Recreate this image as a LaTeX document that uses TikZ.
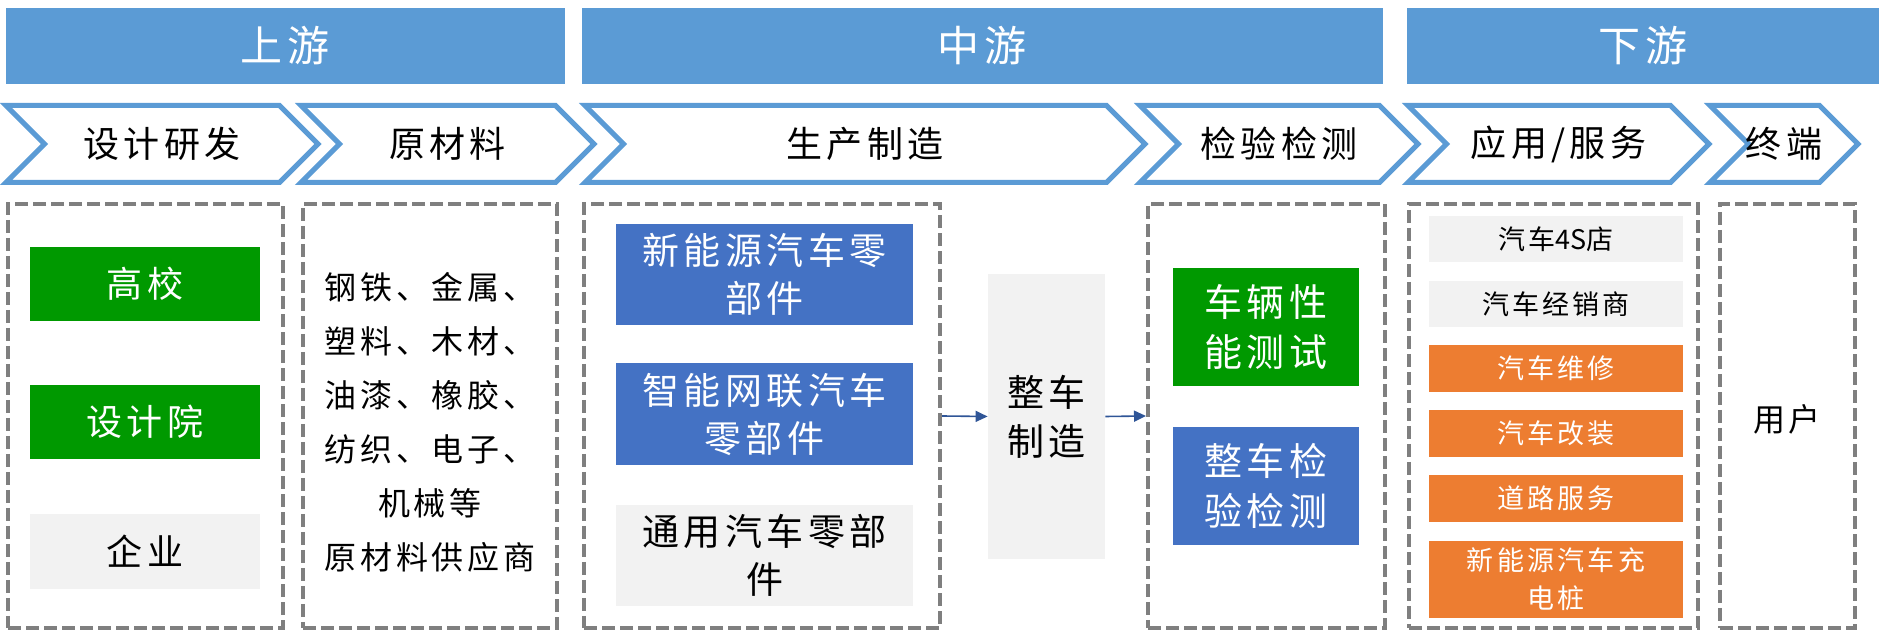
\documentclass[tikz,border=0pt]{standalone}
\usepackage{fontspec}
\setmainfont{Noto Sans CJK SC}
\newfontfamily\cjk{Noto Sans CJK SC}[LetterSpace=12]
\newfontfamily\cjknos{Noto Sans CJK SC}
\usetikzlibrary{arrows.meta}
\definecolor{hdrblue}{HTML}{5B9BD5}
\definecolor{gr}{RGB}{0,153,0}
\definecolor{bl}{HTML}{4472C4}
\definecolor{lg}{HTML}{F2F2F2}
\definecolor{og}{HTML}{ED7D31}
\definecolor{dg}{HTML}{7F7F7F}
\definecolor{arr}{HTML}{2F5597}
\newcommand\mybox[7]{%
  \pgfmathsetmacro\cx{(#2+#4)/2}\pgfmathsetmacro\cy{(#3+#5)/2}%
  \pgfmathsetmacro\ww{(#4-#2)*0.5}\pgfmathsetmacro\hh{(#5-#3)*0.5}%
  \node[#6, minimum width=\ww pt, minimum height=\hh pt] (#1) at (\cx,\cy) {#7};}
\newcommand\chev[4]{%
  \draw[chevline] (#2,105.5) -- ({#3-38.5},105.5) -- (#3,144) -- ({#3-38.5},182.5) -- (#2,182.5) -- ({#2+38.5},144) -- cycle;
  \node[chevtext] (#1) at ({(#2+#3)/2},144) {#4};}
\tikzset{
  banner/.style={fill=hdrblue, draw=none, inner sep=0pt, text=white, font={\cjk\fontsize{21}{24}\selectfont}},
  chevline/.style={draw=hdrblue, line width=2.5pt, miter limit=10},
  chevtext/.style={inner sep=0pt, text=black, font={\cjk\fontsize{18}{22}\selectfont}},
  dbox/.style={draw=dg, line width=2pt, dash pattern=on 6.5pt off 2.5pt, inner sep=0pt},
  fbox/.style={draw=none, inner sep=0pt, align=center},
  wt/.style={text=white},
  bt/.style={text=black},
  arrow/.style={draw=arr, line width=0.8pt, -{Triangle[length=6pt,width=5.5pt]}},
}
\begin{document}
\begin{tikzpicture}[x=0.5pt,y=-0.5pt]
\useasboundingbox (0,0) rectangle (1886,640);
% banners
\mybox{up}{6}{8}{565}{84}{banner}{上游}
\mybox{mid}{582}{8}{1383}{84}{banner}{中游}
\mybox{down}{1407}{8}{1879}{84}{banner}{下游}
% chevrons
\chev{c1}{6}{318}{设计研发}
\chev{c2}{301}{594}{原材料}
\chev{c3}{585}{1145}{生产制造}
\chev{c4}{1140}{1418}{检验检测}
\chev{c5}{1408}{1709}{应用/服务}
\chev{c6}{1710}{1858}{终端}
% dashed boxes
\mybox{b1}{8}{204}{283}{628}{dbox}{}
\mybox{b2}{303}{204}{557}{628}{dbox}{}
\mybox{b3}{584}{204}{940}{628}{dbox}{}
\mybox{b4}{1148}{204}{1385}{628}{dbox}{}
\mybox{b5}{1409}{204}{1698}{628}{dbox}{}
\mybox{b6}{1720}{204}{1855}{628}{dbox}{}
% column 1
\mybox{gx}{30}{247}{260}{321}{fbox,fill=gr,wt,font={\cjk\fontsize{18}{22}\selectfont}}{高校}
\mybox{sjy}{30}{385}{260}{459}{fbox,fill=gr,wt,font={\cjk\fontsize{18}{22}\selectfont}}{设计院}
\mybox{qy}{30}{514}{260}{589}{fbox,fill=lg,bt,font={\cjk\fontsize{18}{22}\selectfont}}{企业}
% column 2
\node[align=center, inner sep=0pt, font={\cjk\fontsize{16}{27}\selectfont}] (mat) at (430,422)
  {钢铁、金属、\\塑料、木材、\\油漆、橡胶、\\纺织、电子、\\机械等\\原材料供应商};
% column 3
\mybox{nev}{616}{224}{913}{325}{fbox,fill=bl,wt,font={\cjk\fontsize{18.5}{24}\selectfont}}{新能源汽车零\\部件}
\mybox{icv}{616}{363}{913}{465}{fbox,fill=bl,wt,font={\cjk\fontsize{18.5}{24}\selectfont}}{智能网联汽车\\零部件}
\mybox{gen}{616}{505}{913}{606}{fbox,fill=lg,bt,font={\cjk\fontsize{18.5}{24}\selectfont}}{通用汽车零部\\件}
\mybox{zc}{988}{274}{1105}{559}{fbox,fill=lg,bt,font={\cjk\fontsize{18.5}{24.5}\selectfont}}{整车\\制造}
% column 4
\mybox{perf}{1173}{268}{1359}{386}{fbox,fill=gr,wt,font={\cjk\fontsize{19}{25}\selectfont}}{车辆性\\能测试}
\mybox{insp}{1173}{427}{1359}{545}{fbox,fill=bl,wt,font={\cjk\fontsize{19}{25}\selectfont}}{整车检\\验检测}
% column 5
\tikzset{sv/.style={fbox,font={\cjk\fontsize{13.5}{19}\selectfont}}}
\mybox{s1}{1429}{216}{1683}{262}{sv,fill=lg,bt}{汽车{\cjknos 4S}店}
\mybox{s2}{1429}{281}{1683}{327}{sv,fill=lg,bt}{汽车经销商}
\mybox{s3}{1429}{345}{1683}{392}{sv,fill=og,wt}{汽车维修}
\mybox{s4}{1429}{410}{1683}{457}{sv,fill=og,wt}{汽车改装}
\mybox{s5}{1429}{475}{1683}{522}{sv,fill=og,wt}{道路服务}
\mybox{s6}{1429}{541}{1683}{618}{sv,fill=og,wt}{新能源汽车充\\电桩}
% column 6
\node[inner sep=0pt, font={\cjk\fontsize{16}{20}\selectfont}] (user) at (1787,419) {用户};
% arrows
\draw[arrow] (b3.east) -- (zc.west);
\draw[arrow] (zc.east) -- (b4.west);
\end{tikzpicture}
\end{document}
